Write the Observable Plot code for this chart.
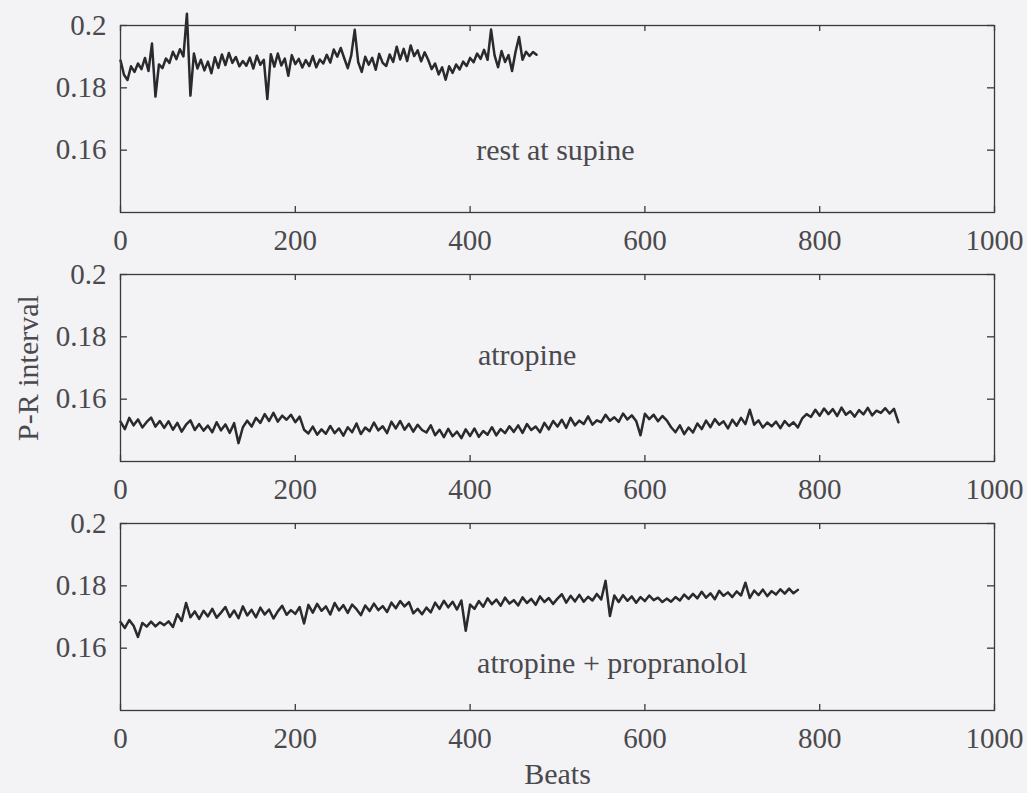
<!DOCTYPE html>
<html><head><meta charset="utf-8">
<script src="https://cdn.jsdelivr.net/npm/d3@7"></script>
<script src="https://cdn.jsdelivr.net/npm/@observablehq/plot@0.6"></script>
<style>
html,body{margin:0;padding:0;background:#f3f2f4;}
#chart{position:relative;width:1027px;height:793px;background:#f3f2f4;overflow:hidden;}
#chart svg{position:absolute;left:0;}
</style></head><body><div id="chart"></div>
<script>
// ---- data (P-R interval in milliseconds, one value every `step` beats) ----
const xTicks = [0, 200, 400, 600, 800, 1000];
const yTicks = [0.16, 0.18, 0.2];
const yLabel = "P-R interval";
const xLabel = "Beats";
const panelNames = ["rest at supine", "atropine", "atropine + propranolol"];

const restStep = 4;
const restPR = [
188.8,184.2,182.5,186.9,185.1,187.8,186.0,189.6,185.4,194.2,
177.2,187.5,186.3,189.4,188.0,191.6,189.2,192.4,190.1,203.8,
177.5,191.0,186.2,189.0,185.6,188.4,184.7,189.8,186.4,190.7,
187.3,191.2,188.0,189.9,186.9,188.6,187.1,189.7,186.2,190.3,
187.4,189.0,176.4,190.8,186.8,191.0,187.2,189.4,183.9,190.5,
187.6,189.3,186.5,188.9,187.0,190.2,186.6,189.1,187.8,190.6,
188.1,192.3,190.0,192.8,189.5,186.3,190.4,198.6,188.2,185.1,
190.0,187.4,189.6,185.8,190.9,188.0,187.0,190.7,188.3,193.2,
189.1,192.5,188.6,193.6,190.2,192.0,188.5,191.4,189.0,186.0,
187.8,184.3,186.6,182.6,186.9,184.8,187.5,185.9,188.4,187.0,
189.6,188.2,191.0,189.3,192.2,189.0,198.7,190.4,186.6,191.8,
188.3,190.5,185.4,191.6,196.3,189.0,191.6,190.2,191.5,190.6
];

const atroStep = 5;
const atroPR = [
152.8,150.4,154.0,151.6,153.5,150.9,152.7,154.1,151.2,153.0,
150.8,152.9,150.2,152.4,149.6,151.8,153.2,150.1,152.0,149.9,
151.5,149.4,152.6,150.0,151.9,149.2,152.3,145.9,151.0,153.1,
151.2,154.0,152.4,155.2,153.0,155.6,152.8,154.7,153.4,155.0,
152.6,154.4,150.2,149.0,151.2,148.6,150.3,148.9,151.4,149.1,
150.6,148.3,151.0,149.4,152.2,148.8,150.9,149.7,152.5,150.0,
151.3,149.1,152.8,150.6,153.0,150.2,152.1,149.6,151.8,150.1,
149.3,151.6,148.4,150.2,147.8,150.5,148.1,149.6,147.5,150.3,
148.2,150.6,147.9,149.8,148.6,151.0,148.4,150.4,149.1,151.3,
149.5,151.6,149.2,152.0,150.1,151.2,149.4,152.4,150.3,153.0,
151.2,153.4,150.8,154.0,151.6,153.1,152.0,154.5,151.8,153.2,
152.6,155.0,153.1,154.2,152.7,155.4,153.5,154.8,153.0,148.4,
155.3,153.6,155.0,152.9,154.6,153.2,151.0,149.4,151.6,148.8,
150.9,149.3,152.2,150.4,153.1,151.0,153.6,151.8,152.9,150.6,
153.4,151.5,154.0,152.0,156.6,151.8,153.2,150.9,152.5,151.3,
152.8,150.7,153.0,151.4,152.6,150.9,153.8,155.2,154.3,156.6,
154.7,157.0,155.2,156.8,154.6,157.3,155.0,156.1,154.4,156.5,
155.1,157.2,154.8,156.3,155.6,157.1,155.4,156.9,152.6
];

const propStep = 5;
const propPR = [
168.4,166.5,169.0,167.2,163.6,168.1,166.9,168.5,167.0,168.3,
167.4,168.6,166.8,170.9,168.7,174.5,169.9,171.8,169.4,172.0,
170.2,172.6,169.8,171.4,173.2,170.0,172.1,169.6,173.4,170.5,
172.3,169.9,173.0,170.8,172.4,169.5,171.8,173.6,170.7,172.2,
171.0,173.2,167.9,173.9,171.4,174.2,172.0,173.4,170.8,174.5,
172.1,173.8,171.3,174.0,172.5,170.6,173.7,171.9,174.3,172.2,
173.5,171.6,174.6,172.8,175.1,173.4,174.8,171.2,172.6,170.9,
173.0,171.5,174.6,172.6,175.2,173.1,174.9,172.4,175.3,165.6,
174.0,172.6,175.1,173.3,176.0,174.1,175.6,173.6,176.2,174.3,
175.4,173.7,176.3,174.5,175.8,173.9,176.6,174.8,176.1,174.2,
175.9,177.3,174.6,176.8,175.0,177.1,174.9,176.5,175.3,177.4,
175.6,181.6,170.3,176.9,174.8,177.0,175.2,176.6,174.6,176.4,
175.1,176.9,175.4,176.2,174.8,175.9,174.9,176.4,175.3,177.2,
175.8,177.4,176.0,178.1,176.2,177.6,175.7,178.4,176.8,177.9,
176.4,178.2,176.9,181.0,176.1,178.5,177.0,178.8,176.7,178.3,
177.2,178.9,177.5,179.1,177.6,178.7
];

// ---- layout (annotation anchors in data units) ----
const annotBeat = [407, 409, 408];
const annotPR = [0.160, 0.1739, 0.1552];

const INK = "#2a292e", FRAME = "#3a393e", TXT = "#4a494e";
const FONT = "'Liberation Serif', 'Times New Roman', serif";
const W = 1027, ML = 120, MR = 33, PH = 187;

function panel(values, step, idx, top, extra) {
  const data = values.map((v, i) => ({beat: i * step, pr: v / 1000}));
  const mb = extra.marginBottom;
  const marks = [
    Plot.line(data, {x: "beat", y: "pr", stroke: INK, strokeWidth: 2.5, strokeLinejoin: "round"}),
    Plot.frame({stroke: FRAME, strokeWidth: 1.3}),
    Plot.ruleX(xTicks, {x: d => d, insetTop: PH - 6, stroke: FRAME, strokeWidth: 1.3}),
    Plot.ruleX(xTicks, {x: d => d, insetBottom: PH - 6, stroke: FRAME, strokeWidth: 1.3}),
    Plot.ruleY(yTicks, {y: d => d, insetRight: (W - ML - MR) - 7, stroke: FRAME, strokeWidth: 1.3}),
    Plot.ruleY(yTicks, {y: d => d, insetLeft: (W - ML - MR) - 7, stroke: FRAME, strokeWidth: 1.3}),
    Plot.axisX(xTicks, {anchor: "bottom", tickSize: 0, tickPadding: 17, tickFormat: d => String(d), fill: TXT, fontSize: 29, label: null}),
    Plot.axisY(yTicks, {anchor: "left", tickSize: 0, tickPadding: 14, tickFormat: d => String(d), fill: TXT, fontSize: 29, label: null}),
    Plot.text([panelNames[idx]], {x: () => annotBeat[idx], y: () => annotPR[idx], text: d => d, textAnchor: "start", lineAnchor: "middle", fill: TXT, fontSize: 30})
  ];
  if (extra.ylab) marks.push(Plot.text([yLabel], {frameAnchor: "left", text: d => d, rotate: -90, dx: -92, lineAnchor: "middle", textAnchor: "middle", fill: TXT, fontSize: 30}));
  if (extra.xlab) marks.push(Plot.text([xLabel], {frameAnchor: "bottom", text: d => d, dy: 64, lineAnchor: "middle", textAnchor: "middle", fill: TXT, fontSize: 30}));
  const svg = Plot.plot({
    width: W, height: 25 + PH + mb,
    marginLeft: ML, marginRight: MR, marginTop: 25, marginBottom: mb,
    style: {background: "transparent", fontFamily: FONT, overflow: "visible", color: TXT},
    x: {domain: [0, 1000], label: null},
    y: {domain: [0.14, 0.2], label: null},
    marks
  });
  svg.style.top = top + "px";
  return svg;
}

const chart = document.getElementById("chart");
chart.appendChild(panel(restPR, restStep, 0, 0, {marginBottom: 37}));
chart.appendChild(panel(atroPR, atroStep, 1, 249, {marginBottom: 37, ylab: true}));
chart.appendChild(panel(propPR, propStep, 2, 498, {marginBottom: 83, xlab: true}));
</script></body></html>
